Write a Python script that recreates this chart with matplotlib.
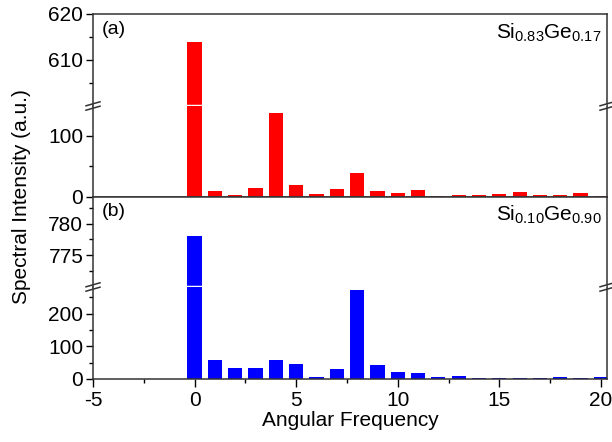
import matplotlib
matplotlib.use("Agg")
import matplotlib.pyplot as plt
from matplotlib.lines import Line2D
import numpy as np

plt.rcParams['font.family'] = ['Liberation Sans', 'DejaVu Sans']
plt.rcParams['mathtext.fontset'] = 'custom'
plt.rcParams['mathtext.rm'] = 'Liberation Sans'
plt.rcParams['axes.unicode_minus'] = False

# data
freq = list(range(0, 21))
int_a = [614, 9, 4, 15, 136, 19, 5, 13, 39, 9, 6, 11, 2, 3, 3, 5, 8, 4, 3, 6, 2]
int_b = [778, 57, 34, 34, 58, 46, 6, 31, 273, 44, 22, 19, 5, 8, 2, 4, 3, 4, 7, 2, 7]
color_a = 'red'
color_b = 'blue'
label_a = r'$\mathregular{Si_{0.83}Ge_{0.17}}$'
label_b = r'$\mathregular{Si_{0.10}Ge_{0.90}}$'

W, H = 612, 442
fig = plt.figure(figsize=(W / 100, H / 100), dpi=100)

L = 93 / W
R = 607 / W


def rect(top_px, bot_px):
    return [L, 1 - bot_px / H, R - L, (bot_px - top_px) / H]


# 4 stacked sections (upper / lower of each panel)
ax_a1 = fig.add_axes(rect(14, 106))
ax_a2 = fig.add_axes(rect(106, 197))
ax_b1 = fig.add_axes(rect(197, 287))
ax_b2 = fig.add_axes(rect(287, 379))

lims = [(600, 620), (0, 148), (770, 784.2), (0, 282)]
majors = [[610, 620], [0, 100], [775, 780], [0, 100, 200]]
minors = [[605, 615], [50], [772.5, 777.5, 782.5], [50, 150, 250]]
axes = [ax_a1, ax_a2, ax_b1, ax_b2]
datas = [int_a, int_a, int_b, int_b]
cols = [color_a, color_a, color_b, color_b]

for i, ax in enumerate(axes):
    ax.bar(freq, datas[i], width=0.7, color=cols[i], zorder=2)
    ax.set_xlim(-5, 20.3)
    ax.set_ylim(*lims[i])
    ax.set_yticks(majors[i])
    ax.set_yticks(minors[i], minor=True)
    ax.tick_params(axis='y', which='major', direction='out', length=5, width=1,
                   labelsize=15, pad=2)
    ax.tick_params(axis='y', which='minor', direction='out', length=3, width=1)
    for s in ax.spines.values():
        s.set_linewidth(1.1)
        s.set_color('#333333')
    if i in (0, 2):
        ax.spines['bottom'].set_visible(False)
    else:
        ax.spines['top'].set_visible(False)
    if i != 3:
        ax.set_xticks([])
        ax.tick_params(axis='x', which='both', bottom=False, labelbottom=False)

ax_a2.spines['bottom'].set_zorder(5)
ax_b1.spines['top'].set_visible(True)

ax_b2.set_xticks([-5, 0, 5, 10, 15, 20])
ax_b2.set_xticks(np.arange(-2.5, 20.1, 5), minor=True)
ax_b2.tick_params(axis='x', which='major', direction='out', length=6, width=1,
                  labelsize=15, pad=3)
ax_b2.tick_params(axis='x', which='minor', direction='out', length=3, width=1)
ax_b2.set_xlabel('Angular Frequency', fontsize=15, labelpad=0)

# white gap through bars at the breaks
for ax in (ax_a1, ax_b1):
    ax.add_line(Line2D([0.003, 0.997], [0, 0], transform=ax.transAxes,
                       color='white', lw=2.5, zorder=4, clip_on=False))

# break marks on both spines
for ax in (ax_a1, ax_b1):
    for xs in (0, 1):
        for dy in (-2.2, 2.2):
            x0, y0 = ax.transAxes.transform((xs, 0))
            xx = [(x0 - 7) / W, (x0 + 7) / W]
            yy = [(y0 + dy - 2) / H, (y0 + dy + 2) / H]
            fig.add_artist(Line2D(xx, yy, transform=fig.transFigure,
                                  color='#333333', lw=1.1, zorder=6))

ax_a1.text(0.017, 0.92, '(a)', transform=ax_a1.transAxes, fontsize=14,
           ha='left', va='top')
ax_a1.text(0.99, 0.92, label_a, transform=ax_a1.transAxes, fontsize=15,
           ha='right', va='top')
ax_b1.text(0.017, 0.93, '(b)', transform=ax_b1.transAxes, fontsize=14,
           ha='left', va='top')
ax_b1.text(0.99, 0.93, label_b, transform=ax_b1.transAxes, fontsize=15,
           ha='right', va='top')

fig.text(22 / W, 1 - 197 / H, 'Spectral Intensity (a.u.)', rotation=90,
         fontsize=15, ha='center', va='center')

fig.savefig('out.png', dpi=100)
